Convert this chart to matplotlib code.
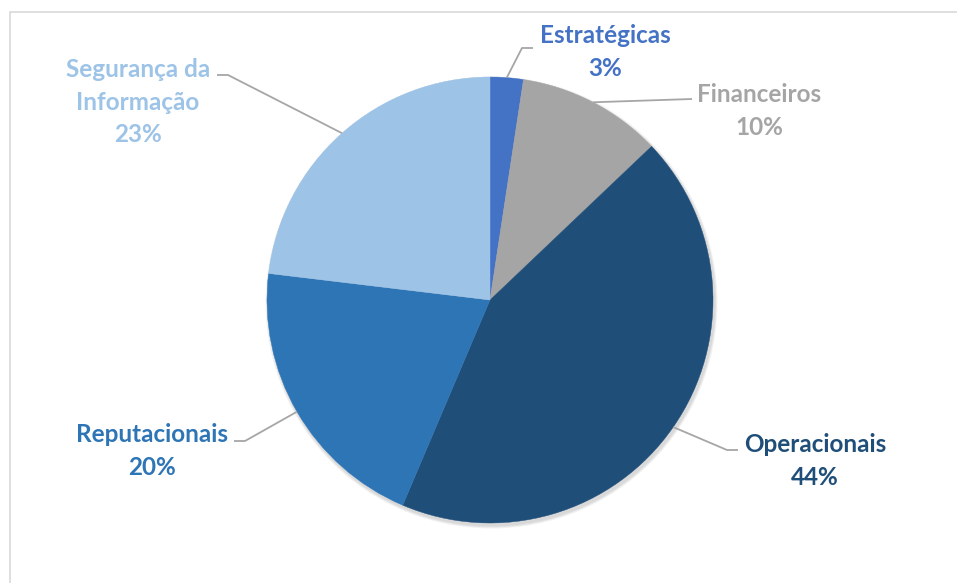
import numpy as np
import matplotlib
matplotlib.use("Agg")
import matplotlib.pyplot as plt
from matplotlib.patches import Rectangle, Circle

# slice data (clockwise from 12 o'clock)
categories = ["Estratégicas", "Financeiros", "Operacionais", "Reputacionais", "Segurança da\nInformação"]
values = [2.4, 10.5, 43.5, 20.5, 23.1]
pct_labels = ["3%", "10%", "44%", "20%", "23%"]
colors = ["#4472C4", "#A5A5A5", "#1F4E79", "#2E75B6", "#9DC3E6"]

W, H = 957, 583
fig = plt.figure(figsize=(W / 100, H / 100), dpi=100)
ax = fig.add_axes([0, 0, 1, 1])

# chart frame
fig.patches.append(Rectangle((10 / W, -0.1), 1.2, (H - 12) / H + 0.1,
                             transform=fig.transFigure, fill=False,
                             edgecolor="#D9D9D9", linewidth=1.2))

cx, cy, r = 490, H - 300, 223
# soft shadow under the pie
for i in range(3):
    ax.add_patch(Circle((cx + 1.5, cy - 2.5), r + 1 + i, color="black", alpha=0.05, lw=0, zorder=0))

wedges, _ = ax.pie(values, colors=colors, startangle=90, counterclock=False,
                   center=(cx, cy), radius=r, frame=True,
                   wedgeprops=dict(linewidth=0))
for w in wedges:
    w.set_edgecolor(w.get_facecolor())
    w.set_linewidth(0.3)
ax.set_xlim(0, W)
ax.set_ylim(0, H)
ax.set_aspect("equal")
ax.axis("off")

# label layout: text centre, elbow point, line end (pixel coords from top)
layout = [
    dict(text=(605, 52), elbow=(522, 48), end=(533, 48)),
    dict(text=(759, 111), elbow=(692, 99), end=(692, 99)),
    dict(text=(815, 461), elbow=(727, 450), end=(738, 450)),
    dict(text=(152, 451), elbow=(245, 441), end=(234, 441)),
    dict(text=(138, 102), elbow=(228, 75), end=(217, 75)),
]

for w, cat, pct, col, lay in zip(wedges, categories, pct_labels, colors, layout):
    mid = np.deg2rad((w.theta1 + w.theta2) / 2)
    x0, y0 = cx + r * np.cos(mid), cy + r * np.sin(mid)
    ex, ey = lay["elbow"]
    fx, fy = lay["end"]
    ax.plot([x0, ex, fx], [y0, H - ey, H - fy], color="#A6A6A6", lw=1.3,
            solid_capstyle="butt", zorder=1)
    tx, ty = lay["text"]
    ax.text(tx, H - ty, cat + "\n" + pct, ha="center", va="center",
            color=col, fontsize=17.5, fontweight="bold", family="Lato",
            linespacing=1.5)

fig.savefig("out.png", dpi=100)
